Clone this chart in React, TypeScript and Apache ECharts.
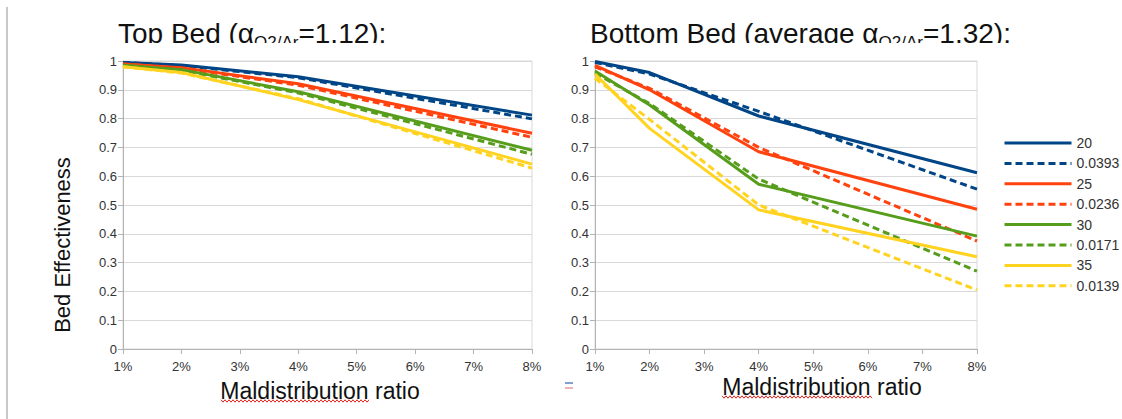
import React, { useEffect, useRef } from "react";
import * as echarts from "echarts";

// Maldistribution ratio (%) at which each bed effectiveness was computed
const MALDISTRIBUTION = [1, 2, 4, 8];
const X_TICKS = [1, 2, 3, 4, 5, 6, 7, 8];

// Legend names: solid = 20/25/30/35, dashed = matching 0.0393/0.0236/0.0171/0.0139
const SERIES_NAMES = ["20", "0.0393", "25", "0.0236", "30", "0.0171", "35", "0.0139"];

// Top bed (alpha O2/Ar = 1.12)
const top20 = [0.995, 0.986, 0.945, 0.812];
const top0393 = [0.995, 0.984, 0.942, 0.799];
const top25 = [0.99, 0.977, 0.921, 0.749];
const top0236 = [0.99, 0.975, 0.916, 0.735];
const top30 = [0.985, 0.97, 0.893, 0.69];
const top0171 = [0.985, 0.968, 0.889, 0.676];
const top35 = [0.98, 0.96, 0.866, 0.642];
const top0139 = [0.98, 0.958, 0.869, 0.628];

// Bottom bed (average alpha O2/Ar = 1.32)
const bot20 = [0.998, 0.96, 0.809, 0.612];
const bot0393 = [0.995, 0.955, 0.825, 0.555];
const bot25 = [0.985, 0.9, 0.685, 0.485];
const bot0236 = [0.98, 0.905, 0.7, 0.375];
const bot30 = [0.965, 0.847, 0.572, 0.392];
const bot0171 = [0.958, 0.852, 0.59, 0.27];
const bot35 = [0.955, 0.766, 0.483, 0.32];
const bot0139 = [0.94, 0.797, 0.5, 0.205];

const TOP_VALUES = [top20, top0393, top25, top0236, top30, top0171, top35, top0139];
const BOTTOM_VALUES = [bot20, bot0393, bot25, bot0236, bot30, bot0171, bot35, bot0139];

const PALETTE = ["#004586", "#004586", "#ff420e", "#ff420e", "#579d1c", "#579d1c", "#ffd320", "#ffd320"];
const DASHED = [false, true, false, true, false, true, false, true];

const FONT = "Liberation Sans, Arial, sans-serif";

function wavy(x0: number, x1: number, y: number) {
  const pts: number[][] = [];
  let up = true;
  for (let x = x0; x <= x1; x += 2) {
    pts.push([x, up ? y - 1.2 : y + 1.2]);
    up = !up;
  }
  return pts;
}

export default function App() {
  const ref = useRef<HTMLDivElement>(null);

  useEffect(() => {
    if (!ref.current) return;
    const chart = echarts.init(ref.current, undefined, { renderer: "svg" });

    const makeSeries = (values: number[][], gridIndex: number) =>
      values.map((vals, i) => ({
        name: SERIES_NAMES[i],
        type: "line",
        xAxisIndex: gridIndex,
        yAxisIndex: gridIndex,
        symbol: "none",
        color: PALETTE[i],
        lineStyle: {
          color: PALETTE[i],
          width: 3,
          type: DASHED[i] ? [7, 4] : "solid",
        },
        data: MALDISTRIBUTION.map((m, k) => [m, vals[k]]),
      }));

    const xAxis = (gridIndex: number) => ({
      type: "value",
      gridIndex,
      min: X_TICKS[0],
      max: X_TICKS[X_TICKS.length - 1],
      interval: 1,
      axisLine: { show: true, lineStyle: { color: "#b3b3b3", width: 1 } },
      axisTick: { show: true, length: 5, inside: false, lineStyle: { color: "#b3b3b3" } },
      splitLine: { show: false },
      axisLabel: {
        margin: 11,
        fontSize: 13,
        color: "#333",
        fontFamily: FONT,
        formatter: (v: number) => `${v}%`,
      },
    });

    const yAxis = (gridIndex: number) => ({
      type: "value",
      gridIndex,
      min: 0,
      max: 1,
      interval: 0.1,
      axisLine: { show: true, lineStyle: { color: "#b3b3b3", width: 1 } },
      axisTick: { show: true, length: 5, inside: false, lineStyle: { color: "#b3b3b3" } },
      splitLine: { show: true, lineStyle: { color: "#d9d9d9", width: 1 } },
      axisLabel: {
        margin: 6,
        fontSize: 13,
        color: "#333",
        fontFamily: FONT,
        formatter: (v: number) => String(+v.toFixed(1)),
      },
    });

    const titleRich = {
      a: { fontSize: 28, lineHeight: 34, fontFamily: FONT, fill: "#111" },
      s: {
        fontSize: 17,
        lineHeight: 17,
        fontFamily: FONT,
        fill: "#111",
        verticalAlign: "top",
        padding: [18, 0, 0, 0],
      },
    };

    chart.setOption({
      animation: false,
      backgroundColor: "#ffffff",
      grid: [
        { left: 123, right: 590, top: 61, bottom: 70, show: true, borderColor: "#d9d9d9", borderWidth: 1 },
        { left: 595, right: 145, top: 61, bottom: 70, show: true, borderColor: "#d9d9d9", borderWidth: 1 },
      ],
      xAxis: [xAxis(0), xAxis(1)],
      yAxis: [yAxis(0), yAxis(1)],
      legend: {
        data: SERIES_NAMES,
        orient: "vertical",
        left: 998,
        top: 131,
        padding: 5,
        itemWidth: 67,
        itemHeight: 14,
        itemGap: 6.4,
        selectedMode: false,
        itemStyle: { opacity: 0 },
        lineStyle: { width: 3 },
        textStyle: { fontSize: 14, color: "#333", fontFamily: FONT, lineHeight: 14 },
      },
      series: [...makeSeries(TOP_VALUES, 0), ...makeSeries(BOTTOM_VALUES, 1)],
      graphic: {
        elements: [
          {
            type: "line",
            shape: { x1: 7, y1: 7, x2: 7, y2: 419 },
            style: { stroke: "#c8c8c8", lineWidth: 2 },
          },
          {
            type: "text",
            x: 118,
            y: 16,
            style: {
              text: "{a|Top Bed (α}{s|O2/Ar}{a|=1.12):}",
              rich: titleRich,
              align: "left",
              verticalAlign: "top",
            },
          },
          {
            type: "text",
            x: 590,
            y: 16,
            style: {
              text: "{a|Bottom Bed (average α}{s|O2/Ar}{a|=1.32):}",
              rich: titleRich,
              align: "left",
              verticalAlign: "top",
            },
          },
          {
            type: "rect",
            z: 50,
            shape: { x: 100, y: 43, width: 950, height: 11 },
            style: { fill: "#ffffff" },
          },
          {
            type: "text",
            x: 62,
            y: 245,
            rotation: Math.PI / 2,
            style: {
              text: "Bed Effectiveness",
              fontSize: 22,
              fontFamily: FONT,
              fill: "#111",
              align: "center",
              verticalAlign: "middle",
            },
          },
          {
            type: "text",
            x: 320,
            y: 391,
            style: {
              text: "Maldistribution ratio",
              fontSize: 23,
              fontFamily: FONT,
              fill: "#111",
              align: "center",
              verticalAlign: "middle",
            },
          },
          {
            type: "text",
            x: 822,
            y: 387,
            style: {
              text: "Maldistribution ratio",
              fontSize: 23,
              fontFamily: FONT,
              fill: "#111",
              align: "center",
              verticalAlign: "middle",
            },
          },
          {
            type: "polyline",
            shape: { points: wavy(221, 370, 401) },
            style: { stroke: "#e8221b", lineWidth: 1, fill: null },
          },
          {
            type: "polyline",
            shape: { points: wavy(722, 873, 397) },
            style: { stroke: "#e8221b", lineWidth: 1, fill: null },
          },
          {
            type: "line",
            shape: { x1: 565, y1: 383, x2: 573, y2: 383 },
            style: { stroke: "#5a7fc0", lineWidth: 1.5 },
          },
          {
            type: "line",
            shape: { x1: 565, y1: 388, x2: 573, y2: 388 },
            style: { stroke: "#e79a9a", lineWidth: 1.5 },
          },
        ],
      },
    });

    return () => chart.dispose();
  }, []);

  return (
    <div
      ref={ref}
      style={{ position: "fixed", left: 0, top: 0, width: 1122, height: 419, background: "#fff" }}
    />
  );
}
